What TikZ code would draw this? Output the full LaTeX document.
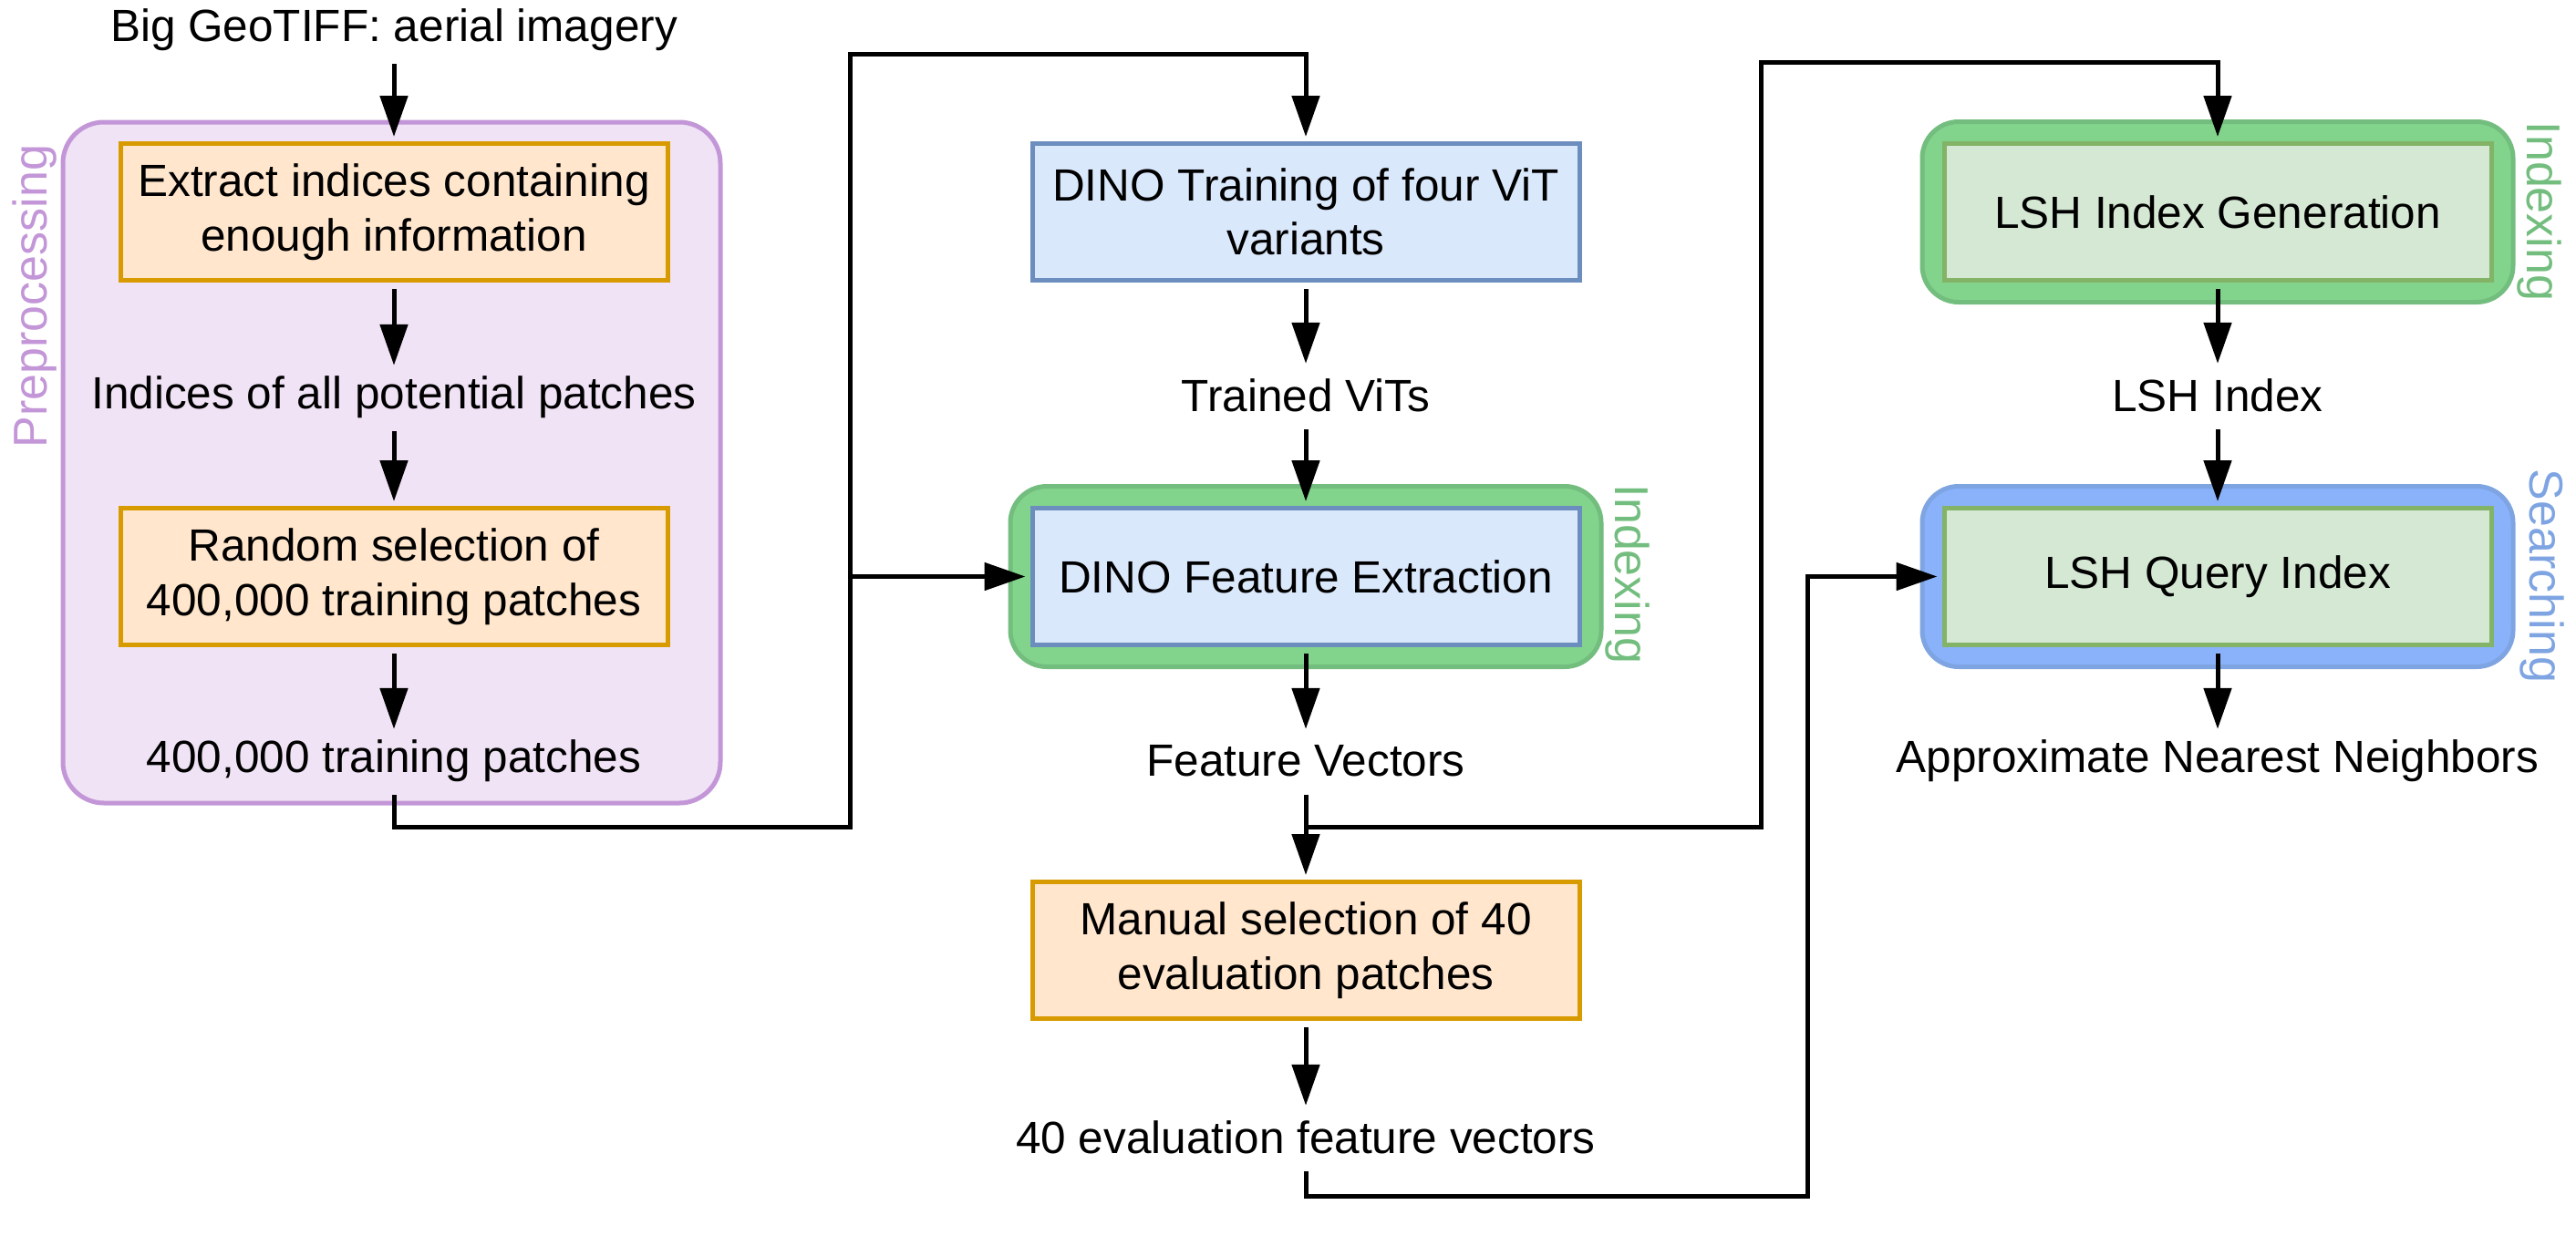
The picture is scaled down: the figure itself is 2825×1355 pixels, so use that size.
\documentclass[tikz,border=0pt]{standalone}
\usepackage{fontspec}
\setmainfont{Liberation Sans}
\usetikzlibrary{arrows.meta,fit,backgrounds}
\definecolor{orfill}{HTML}{FFE6CC}
\definecolor{ordraw}{HTML}{D79B00}
\definecolor{blfill}{HTML}{DAE8FC}
\definecolor{bldraw}{HTML}{6C8EBF}
\definecolor{grfill}{HTML}{D5E8D4}
\definecolor{grdraw}{HTML}{82B366}
\definecolor{prfill}{HTML}{F0E3F5}
\definecolor{prdraw}{HTML}{C396D8}
\definecolor{gcfill}{HTML}{82D48C}
\definecolor{gcdraw}{HTML}{73BD7E}
\definecolor{bcfill}{HTML}{8AB2FB}
\definecolor{bcdraw}{HTML}{7EA4E2}
\begin{document}
\begin{tikzpicture}[x=1pt,y=-1pt,
  every node/.style={font=\fontsize{49.5}{59.4}\selectfont, inner sep=0pt},
  procbox/.style={draw, line width=5pt, minimum width=600pt, minimum height=150pt, align=center},
  orbox/.style={procbox, fill=orfill, draw=ordraw},
  blbox/.style={procbox, fill=blfill, draw=bldraw},
  grbox/.style={procbox, fill=grfill, draw=grdraw},
  datatext/.style={minimum height=60pt},
  grcont/.style={fill=gcfill, draw=gcdraw, line width=5pt, rounded corners=40pt, inner sep=21.5pt},
  bccont/.style={fill=bcfill, draw=bcdraw, line width=5pt, rounded corners=40pt, inner sep=21.5pt},
  prcont/.style={fill=prfill, draw=prdraw, line width=5pt, rounded corners=45pt},
  sidelabel/.style={font=\fontsize{52}{62}\selectfont},
  flow/.style={line width=5pt, -{Triangle[length=45pt,width=30pt]}, shorten >=5pt, shorten <=7pt},
]
\useasboundingbox (0,0) rectangle (2825,1355);

% left column
\node[datatext] (src) at (432,33) {Big GeoTIFF: aerial imagery};
\node[orbox] (ext) at (432,232.5) {Extract indices containing\\enough information};
\node[datatext] (idx) at (432,436) {Indices of all potential patches};
\node[orbox] (rnd) at (432,632.5) {Random selection of\\400,000 training patches};
\node[datatext] (tp) at (432,835) {400,000 training patches};

% middle column
\node[blbox] (dt) at (1432,232.5) {DINO Training of four ViT\\variants};
\node[datatext] (vit) at (1432,434) {Trained ViTs};
\node[blbox] (fe) at (1432,632.5) {DINO Feature Extraction};
\node[datatext] (fv) at (1432,835) {Feature Vectors};
\node[orbox] (man) at (1432,1042.5) {Manual selection of 40\\evaluation patches};
\node[datatext] (efv) at (1432,1248) {40 evaluation feature vectors};

% right column
\node[grbox] (gen) at (2432,232.5) {LSH Index Generation};
\node[datatext] (lshi) at (2432,434) {LSH Index};
\node[grbox] (qry) at (2432,632.5) {LSH Query Index};
\node[datatext] (ann) at (2432,835) {Approximate Nearest Neighbors};

% containers
\begin{scope}[on background layer]
  \node[prcont, minimum width=721pt, minimum height=747pt] (prep) at (429.5,507.5) {};
  \node[grcont, fit=(fe)] (fecont) {};
  \node[grcont, fit=(gen)] (gencont) {};
  \node[bccont, fit=(qry)] (qrycont) {};
\end{scope}

% side labels
\node[sidelabel, rotate=90, text=prdraw] (lprep) at (38,325) {Preprocessing};
\node[sidelabel, rotate=-90, text=gcdraw] (lidx1) at (1785,630) {Indexing};
\node[sidelabel, rotate=-90, text=gcdraw] (lidx2) at (2785,232) {Indexing};
\node[sidelabel, rotate=-90, text=bcdraw] (lsrch) at (2788,632) {Searching};

% routing points
\coordinate (a1) at (432,907);
\coordinate (a2) at (932,907);
\coordinate (a3) at (932,59);
\coordinate (a4) at (1432,59);
\coordinate (a5) at (932,632.5);
\coordinate (b1) at (1432,907);
\coordinate (b2) at (1931,907);
\coordinate (b3) at (1931,68);
\coordinate (b4) at (2432,68);
\coordinate (c1) at (1432,1312);
\coordinate (c2) at (1982,1312);
\coordinate (c3) at (1982,632.5);

% connectors
\draw[flow] (src) -- (ext);
\draw[flow] (ext) -- (idx);
\draw[flow] (idx) -- (rnd);
\draw[flow] (rnd) -- (tp);
\draw[flow] (tp.south) -- (a1) -- (a2) -- (a3) -- (a4) -- (dt.north);
\draw[flow, shorten <=0pt] (a5) -- (fe.west);
\draw[flow] (dt) -- (vit);
\draw[flow] (vit) -- (fe);
\draw[flow] (fe) -- (fv);
\draw[flow] (fv) -- (man);
\draw[flow, shorten <=0pt] (b1) -- (b2) -- (b3) -- (b4) -- (gen.north);
\draw[flow] (man) -- (efv);
\draw[flow] (efv.south) -- (c1) -- (c2) -- (c3) -- (qry.west);
\draw[flow] (gen) -- (lshi);
\draw[flow] (lshi) -- (qry);
\draw[flow] (qry) -- (ann);
\end{tikzpicture}
\end{document}
